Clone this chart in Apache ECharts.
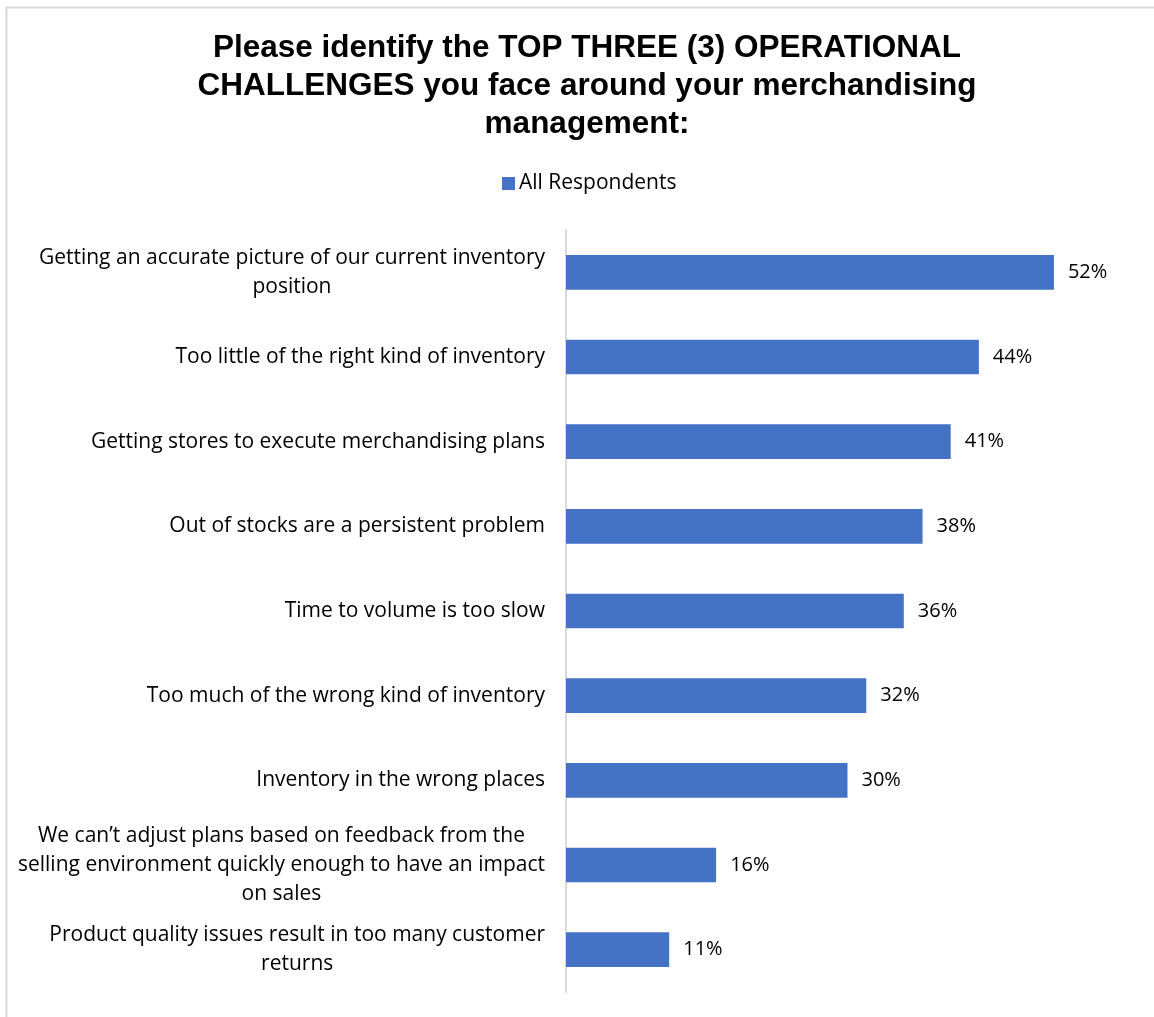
<!DOCTYPE html>
<html>
<head>
<meta charset="utf-8">
<script src="https://cdn.jsdelivr.net/npm/echarts@6/dist/echarts.min.js"></script>
<style>
  html, body { margin: 0; padding: 0; background: #fff; }
  #chart { width: 1154px; height: 1017px; }
</style>
</head>
<body>
<div id="chart"></div>
<script>
// Survey answers, top to bottom
const categories = [
  'Getting an accurate picture of our current inventory\nposition',
  'Too little of the right kind of inventory',
  'Getting stores to execute merchandising plans',
  'Out of stocks are a persistent problem',
  'Time to volume is too slow',
  'Too much of the wrong kind of inventory',
  'Inventory in the wrong places',
  'We can\u2019t adjust plans based on feedback from the\nselling environment quickly enough to have an impact\non sales',
  'Product quality issues result in too many customer\nreturns'
];
const allRespondents = [52, 44, 41, 38, 36, 32, 30, 16, 11];

const seriesName = 'All Respondents';
const titleText = 'Please identify the TOP THREE (3) OPERATIONAL\nCHALLENGES you face around your merchandising\nmanagement:';

const labelFont = '"Open Sans", Lato, sans-serif';

const chart = echarts.init(document.getElementById('chart'));
chart.setOption({
  animation: false,
  title: {
    text: titleText,
    left: 582,
    top: 24,
    textAlign: 'center',
    textStyle: {
      fontFamily: '"Liberation Sans", Arial, sans-serif',
      fontWeight: 'bold',
      fontSize: 31.5,
      lineHeight: 38,
      color: '#000'
    }
  },
  legend: {
    data: [seriesName],
    left: 497,
    top: 168,
    icon: 'rect',
    itemWidth: 13,
    itemHeight: 13,
    itemGap: 4,
    textStyle: { fontFamily: labelFont, fontSize: 21, color: '#000', padding: [0, 0, 0, -1] }
  },
  graphic: [{
    type: 'polyline',
    shape: { points: [[6.5, 1017], [6.5, 7.5], [1154, 7.5]] },
    style: { stroke: '#d9d9d9', lineWidth: 2, fill: null },
    silent: true
  }],
  grid: { left: 566, top: 230, width: 563, height: 762, containLabel: false },
  xAxis: {
    type: 'value',
    min: 0,
    max: 60,
    show: false,
    splitLine: { show: false }
  },
  yAxis: {
    type: 'category',
    data: categories,
    inverse: true,
    axisLine: { show: true, lineStyle: { color: '#d9d9d9', width: 2 } },
    axisTick: { show: false },
    axisLabel: {
      margin: 21,
      align: 'right',
      // wrapped lines are centred within the right-aligned label block
      formatter: (value) => value.split('\n').map((line) => '{c|' + line + '}').join('\n'),
      rich: {
        c: {
          align: 'center',
          fontFamily: labelFont,
          fontSize: 21,
          lineHeight: 29,
          color: '#000'
        }
      }
    }
  },
  series: [{
    name: seriesName,
    type: 'bar',
    data: allRespondents,
    barCategoryGap: '59%',
    itemStyle: { color: '#4472C4' },
    label: {
      show: true,
      position: 'right',
      distance: 14,
      formatter: '{c}%',
      fontFamily: labelFont,
      fontSize: 20,
      color: '#000'
    }
  }]
});
</script>
</body>
</html>
